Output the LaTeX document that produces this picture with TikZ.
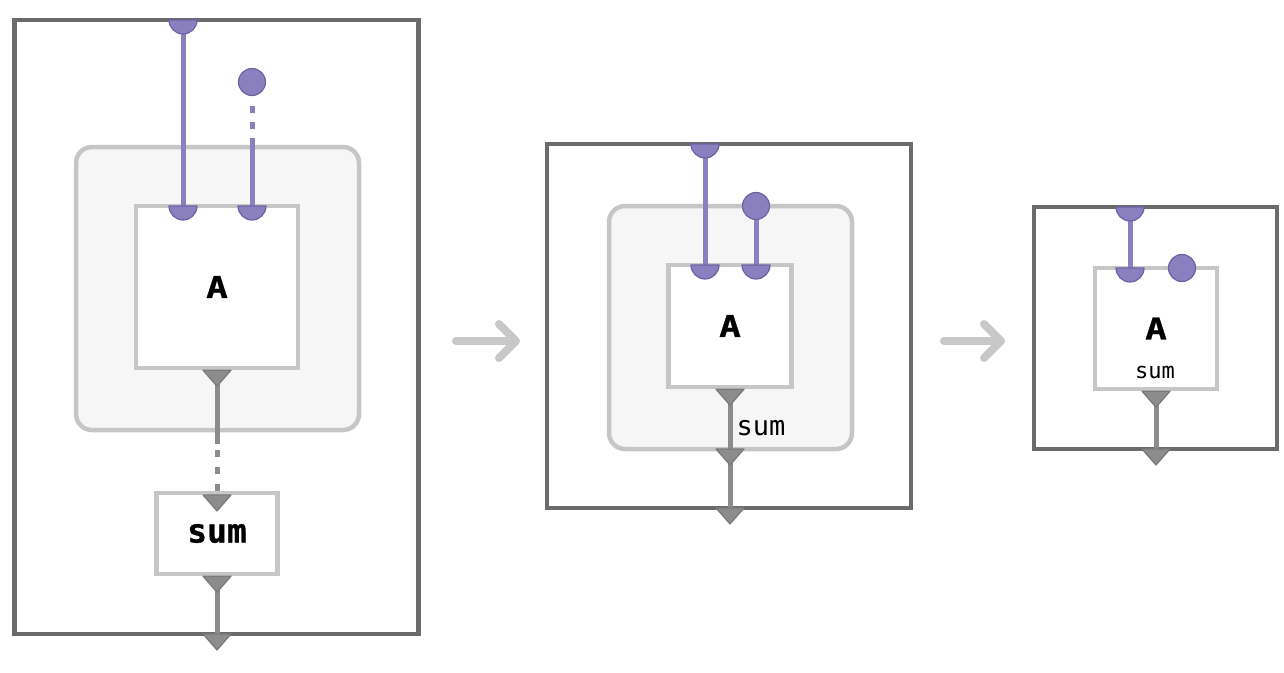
\documentclass[tikz,border=0pt]{standalone}
\usepackage{fontspec}
\setmonofont{DejaVu Sans Mono}
\newfontfamily\opfont[BoldFeatures={FakeBold=0.8}]{DejaVu Sans Mono}
\newfontfamily\opwidefont[BoldFeatures={FakeBold=0.8, FakeStretch=1.2}]{DejaVu Sans Mono}
\usetikzlibrary{arrows.meta}

\definecolor{framegray}{HTML}{6B6B6B}
\definecolor{boxgray}{HTML}{C6C6C6}
\definecolor{groupfill}{HTML}{F6F6F6}
\definecolor{wirepurple}{HTML}{8A80C0}
\definecolor{portedge}{HTML}{6D63A3}
\definecolor{flowgray}{HTML}{8C8C8C}
\definecolor{flowedge}{HTML}{7A7A7A}
\definecolor{stagegray}{HTML}{C8C8C8}

\tikzset{
  frame/.style={draw=framegray, line width=4.5pt, inner sep=0pt},
  group/.style={draw=boxgray, fill=groupfill, line width=4.5pt, rounded corners=16pt, inner sep=0pt},
  op/.style={draw=boxgray, fill=white, line width=4.5pt, inner sep=0pt, font=\fontsize{30}{30}\selectfont\opwidefont\bfseries},
  wire/.style={draw=wirepurple, line width=5pt},
  flow/.style={draw=flowgray, line width=5pt},
  port/.style={circle, fill=wirepurple, draw=portedge, line width=1.2pt, minimum size=27pt, inner sep=0pt},
  halfport/.style={fill=wirepurple, draw=portedge, line width=1.2pt},
  outtri/.style={fill=flowgray, draw=flowedge, line width=1.2pt, line join=round},
  thenarrow/.style={draw=stagegray, line width=8pt, line cap=round, -{Straight Barb[length=17pt, width=34pt, round]}},
  lbl/.style={inner sep=0pt, font=\ttfamily},
}

\newcommand\inport[1]{\filldraw[halfport] (#1) ++(-14pt,0pt) arc[start angle=180, end angle=360, radius=14pt] -- cycle;}
\newcommand\outport[1]{\filldraw[outtri] (#1) ++(-14pt,0pt) -- ++(28pt,0pt) -- ++(-14pt,-16pt) -- cycle;}

\begin{document}
\begin{tikzpicture}[x=1pt, y=-1pt]
\useasboundingbox (0,0) rectangle (1284,672);

% first stage
\node[frame, minimum width=404pt, minimum height=614pt] (outer1) at (216.5,327) {};
\node[group, minimum width=283pt, minimum height=283pt] (group1) at (217.5,288.5) {};
\node[op, minimum width=162pt, minimum height=162pt] (a1) at (217,287) {A};
\node[op, font=\fontsize{33}{33}\selectfont\opfont\bfseries, minimum width=121pt, minimum height=81pt] (sum1) at (217,533.5) {sum};
\node[port] (src1) at (252,82) {};
\coordinate (in11) at (183,20);
\coordinate (in12) at (183,206);
\coordinate (in13) at (252,206);
\coordinate (t11) at (217,495);
\coordinate (out1) at (217,634);
\draw[wire] (in11) -- (in12);
\draw[wire, dash pattern=on 0pt off 10pt on 7pt off 9pt on 7pt off 9pt on 90pt] (src1) -- (in13);
\draw[flow, dash pattern=on 74pt off 6pt on 7pt off 10pt on 7pt off 10pt on 7pt off 10pt] (a1.south) -- (sum1.north);
\draw[flow] (sum1.south) -- (out1);
\inport{in11}
\inport{in12}
\inport{in13}
\outport{a1.south}
\outport{t11}
\outport{sum1.south}
\outport{out1}

% second stage
\node[frame, minimum width=364pt, minimum height=364pt] (outer2) at (729,326) {};
\node[group, minimum width=243pt, minimum height=243pt] (group2) at (730.5,327.5) {};
\node[op, minimum width=123pt, minimum height=122pt] (a2) at (730,326) {A};
\node[lbl, font=\fontsize{27}{27}\selectfont\ttfamily] (sum2) at (761,428) {sum};
\node[port] (src2) at (756,206) {};
\coordinate (in21) at (705,144);
\coordinate (in22) at (705,265);
\coordinate (in23) at (756,265);
\coordinate (g2out) at (730,449);
\coordinate (out2) at (730,508);
\draw[wire] (in21) -- (in22);
\draw[wire] (src2) -- (in23);
\draw[flow] (a2.south) -- (out2);
\inport{in21}
\inport{in22}
\inport{in23}
\outport{a2.south}
\outport{g2out}
\outport{out2}

% third stage
\node[frame, minimum width=243pt, minimum height=242pt] (outer3) at (1155.5,328) {};
\node[op, minimum width=122pt, minimum height=121pt] (a3) at (1156,328.5) {A};
\node[lbl, font=\fontsize{22}{22}\selectfont\ttfamily] (sum3) at (1155,372) {sum};
\coordinate (in31) at (1130,207);
\coordinate (in32) at (1130,268);
\coordinate (out3) at (1156,449);
\draw[wire] (in31) -- (in32);
\draw[flow] (a3.south) -- (out3);
\inport{in31}
\inport{in32}
\node[port] (src3) at (1182,268) {};
\outport{a3.south}
\outport{out3}

% stage arrows
\coordinate (s1) at (456,341);
\coordinate (e1) at (520,341);
\coordinate (s2) at (944,341);
\coordinate (e2) at (1005,341);
\draw[thenarrow] (s1) -- (e1);
\draw[thenarrow] (s2) -- (e2);
\end{tikzpicture}
\end{document}
